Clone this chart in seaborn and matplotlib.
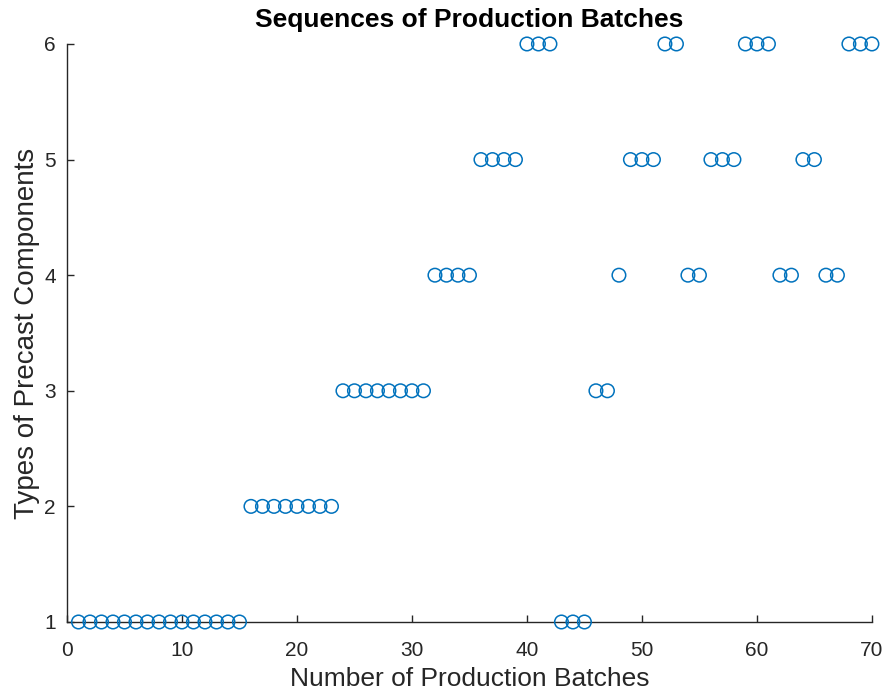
import matplotlib
matplotlib.use("Agg")
import matplotlib.pyplot as plt
import seaborn as sns
import pandas as pd

batches = list(range(1, 71))
types = ([1] * 15 + [2] * 8 + [3] * 8 + [4] * 4 + [5] * 4 + [6] * 3 +
         [1] * 3 + [3] * 2 + [4] * 1 + [5] * 3 + [6] * 2 + [4] * 2 +
         [5] * 3 + [6] * 3 + [4] * 2 + [5] * 2 + [4] * 2 + [6] * 3)
x_ticks = [0, 10, 20, 30, 40, 50, 60, 70]
y_ticks = [1, 2, 3, 4, 5, 6]

df = pd.DataFrame({"batch": batches, "type": types})

sns.set_style("white")
plt.rcParams['font.family'] = ['Liberation Sans', 'DejaVu Sans']

fig = plt.figure(figsize=(8.86, 6.98), dpi=100)
ax = fig.add_axes([0.0756, 0.1089, 0.9085, 0.8281])

sns.scatterplot(data=df, x="batch", y="type", ax=ax, s=95, marker="o",
                color="#0072BD", facecolors="none", edgecolor="#0072BD",
                linewidth=1.1, clip_on=False, zorder=3)

ax.set_xlim(0, 70)
ax.set_ylim(1, 6)
ax.set_xticks(x_ticks)
ax.set_yticks(y_ticks)
for s in ["top", "right"]:
    ax.spines[s].set_visible(False)
for s in ["left", "bottom"]:
    ax.spines[s].set_color("#262626")
    ax.spines[s].set_linewidth(1.0)
ax.tick_params(direction="in", length=5, width=1, colors="#262626",
               labelsize=15, left=True, bottom=True)
ax.tick_params(axis="x", pad=14)
ax.tick_params(axis="y", pad=8)
ax.set_xlabel("Number of Production Batches", fontsize=19, color="#262626", labelpad=5)
ax.set_ylabel("Types of Precast Components", fontsize=20, color="#262626", labelpad=3)
ax.set_title("Sequences of Production Batches", fontsize=19, fontweight="bold",
             color="black", pad=12)

fig.savefig("out.png", dpi=100)
